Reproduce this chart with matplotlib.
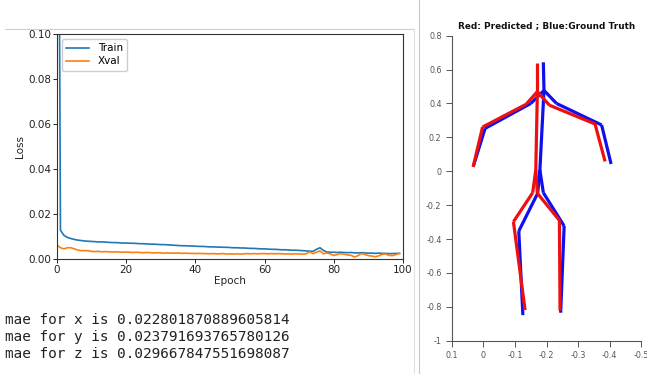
import numpy as np
import matplotlib.pyplot as plt
from matplotlib.lines import Line2D

# ---- training history ----
epochs = np.arange(100)
train_loss = [0.35, 0.0128, 0.0105, 0.0096, 0.0091, 0.0087, 0.0084, 0.0082, 0.0080, 0.0079,
              0.0078, 0.0077, 0.0076, 0.0076, 0.0075, 0.0074, 0.0073, 0.0073, 0.0072, 0.0071,
              0.0071, 0.0070, 0.0070, 0.0069, 0.0068, 0.0068, 0.0067, 0.0066, 0.0066, 0.0065,
              0.0064, 0.0064, 0.0063, 0.0062, 0.0061, 0.0060, 0.0059, 0.0059, 0.0058, 0.0058,
              0.0057, 0.0056, 0.0056, 0.0055, 0.0054, 0.0054, 0.0053, 0.0053, 0.0052, 0.0052,
              0.0051, 0.0050, 0.0050, 0.0049, 0.0049, 0.0048, 0.0047, 0.0047, 0.0046, 0.0045,
              0.0045, 0.0044, 0.0043, 0.0043, 0.0042, 0.0041, 0.0041, 0.0040, 0.0039, 0.0039,
              0.0038, 0.0037, 0.0036, 0.0035, 0.0034, 0.0043, 0.0050, 0.0038, 0.0031, 0.0030,
              0.0030, 0.0029, 0.0030, 0.0029, 0.0028, 0.0029, 0.0027, 0.0027, 0.0028, 0.0027,
              0.0026, 0.0026, 0.0025, 0.0026, 0.0025, 0.0025, 0.0024, 0.0024, 0.0025, 0.0025]
xval_loss = [0.0062, 0.0050, 0.0045, 0.0050, 0.0050, 0.0045, 0.0040, 0.0037, 0.0037, 0.0037,
             0.0034, 0.0033, 0.0034, 0.0032, 0.0033, 0.0032, 0.0031, 0.0032, 0.0031, 0.0030,
             0.0031, 0.0030, 0.0029, 0.0030, 0.0029, 0.0028, 0.0029, 0.0028, 0.0027, 0.0028,
             0.0027, 0.0026, 0.0027, 0.0026, 0.0026, 0.0027, 0.0025, 0.0026, 0.0025, 0.0025,
             0.0024, 0.0025, 0.0024, 0.0024, 0.0023, 0.0024, 0.0023, 0.0023, 0.0024, 0.0022,
             0.0023, 0.0022, 0.0023, 0.0022, 0.0023, 0.0024, 0.0023, 0.0024, 0.0023, 0.0024,
             0.0024, 0.0023, 0.0024, 0.0023, 0.0024, 0.0023, 0.0022, 0.0023, 0.0022, 0.0023,
             0.0022, 0.0022, 0.0023, 0.0032, 0.0024, 0.0030, 0.0036, 0.0023, 0.0027, 0.0022,
             0.0016, 0.0020, 0.0024, 0.0021, 0.0018, 0.0016, 0.0009, 0.0015, 0.0024, 0.0020,
             0.0015, 0.0013, 0.0010, 0.0014, 0.0021, 0.0022, 0.0016, 0.0015, 0.0020, 0.0025]

mae_lines = ["mae for x is 0.022801870889605814",
             "mae for y is 0.023791693765780126",
             "mae for z is 0.029667847551698087"]

# ---- skeleton joints ----
# head, neck, l_sh, l_elb, l_wr, r_sh, r_elb, r_wr, pelvis, l_hip, l_knee, l_ank, r_hip, r_knee, r_ank
gt_x = [-0.190, -0.192, -0.150, -0.005, 0.032, -0.232, -0.375, -0.405,
        -0.179, -0.172, -0.112, -0.125, -0.190, -0.256, -0.245]
gt_y = [0.643, 0.477, 0.400, 0.253, 0.031, 0.400, 0.273, 0.043,
        0.007, -0.130, -0.353, -0.849, -0.127, -0.323, -0.835]
pred_x = [-0.171, -0.171, -0.135, 0.003, 0.033, -0.209, -0.354, -0.386,
          -0.166, -0.156, -0.095, -0.132, -0.171, -0.241, -0.243]
pred_y = [0.637, 0.470, 0.395, 0.261, 0.025, 0.390, 0.279, 0.058,
          0.007, -0.127, -0.298, -0.819, -0.130, -0.290, -0.823]
bones = [(0, 1), (1, 2), (2, 3), (3, 4), (1, 5), (5, 6), (6, 7), (1, 8),
         (8, 9), (9, 10), (10, 11), (8, 12), (12, 13), (13, 14)]

x_ticks = [0.1, 0, -0.1, -0.2, -0.3, -0.4, -0.5]
x_labels = ["0.1", "0", "-0.1", "-0.2", "-0.3", "-0.4", "-0.5"]
y_ticks = [0.8, 0.6, 0.4, 0.2, 0, -0.2, -0.4, -0.6, -0.8, -1]
y_labels = ["0.8", "0.6", "0.4", "0.2", "0", "-0.2", "-0.4", "-0.6", "-0.8", "-1"]

W, H = 647, 374
fig = plt.figure(figsize=(W / 100, H / 100), dpi=100)

# left: loss curves
ax = fig.add_axes([57 / W, 1 - 259 / H, 346 / W, 225 / H])
ax.plot(epochs, train_loss, color='#1f77b4', lw=1.2, label='Train')
ax.plot(epochs, xval_loss, color='#ff7f0e', lw=1.2, label='Xval')
ax.set_xlim(0, 100)
ax.set_ylim(0, 0.1)
ax.set_xticks([0, 20, 40, 60, 80, 100])
ax.set_yticks([0, 0.02, 0.04, 0.06, 0.08, 0.10])
ax.set_yticklabels(["0.00", "0.02", "0.04", "0.06", "0.08", "0.10"])
ax.tick_params(labelsize=7.5, length=2.8, width=0.7, pad=1.5, colors='#222222')
ax.set_xlabel("Epoch", fontsize=7.5, labelpad=1, color='#222222')
ax.set_ylabel("Loss", fontsize=7.5, labelpad=2, color='#222222')
for s in ax.spines.values():
    s.set_color('#333333')
    s.set_linewidth(0.8)
ax.legend(loc='upper left', fontsize=7.5, handlelength=2.2, borderpad=0.4,
          labelspacing=0.3, framealpha=1, edgecolor='#cccccc', fancybox=True)

# mae text
for i, t in enumerate(mae_lines):
    fig.text(5 / W, 1 - (320.5 + 16.8 * i) / H, t, family='DejaVu Sans Mono',
             fontsize=10.4, color='#222222', va='center', ha='left')

# right: skeleton
ax2 = fig.add_axes([452 / W, 1 - 340.7 / H, 189 / W, 305 / H])
for pts_x, pts_y, c in [(gt_x, gt_y, '#1010ee'), (pred_x, pred_y, '#ee1010')]:
    for a, b in bones:
        ax2.plot([pts_x[a], pts_x[b]], [pts_y[a], pts_y[b]], color=c, lw=2.3,
                 solid_capstyle='butt')
ax2.set_xlim(0.1, -0.5)
ax2.set_ylim(-1, 0.8)
ax2.set_xticks(x_ticks)
ax2.set_xticklabels(x_labels)
ax2.set_yticks(y_ticks)
ax2.set_yticklabels(y_labels)
ax2.tick_params(labelsize=5.8, length=4, width=0.7, pad=3.5, colors='#555555')
for side in ['top', 'right']:
    ax2.spines[side].set_visible(False)
for side in ['left', 'bottom']:
    ax2.spines[side].set_color('#555555')
    ax2.spines[side].set_linewidth(0.8)
ax2.set_title("Red: Predicted ; Blue:Ground Truth", fontsize=6.4,
              fontweight='bold', color='#111111', pad=5.5)

# screenshot frame lines
fig.add_artist(Line2D([5 / W, 414 / W], [1 - 29 / H, 1 - 29 / H], color='#d0d0d0', lw=0.8))
fig.add_artist(Line2D([414 / W, 414 / W], [0, 1 - 29 / H], color='#e0e0e0', lw=0.8))
fig.add_artist(Line2D([419 / W, 419 / W], [0, 1], color='#c8c8c8', lw=0.8))

fig.savefig("out.png", dpi=100)
